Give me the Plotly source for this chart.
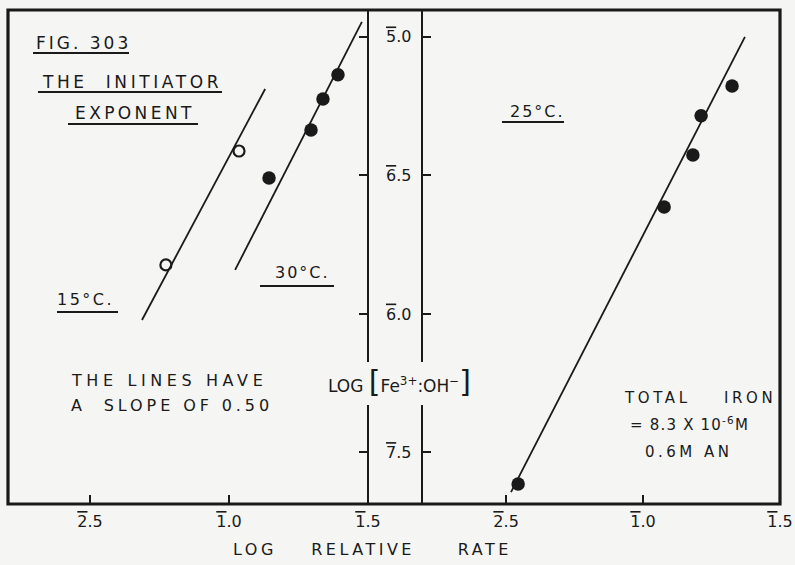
import plotly.graph_objects as go

# ---------------- data (log values; bar notation in tick labels) ----------------
x15 = [-1.227, -0.964]
y15 = [-5.823, -5.412]
fit15_x = [-1.313, -0.870]
fit15_y = [-6.022, -5.188]

x30 = [-0.856, -0.705, -0.662, -0.608]
y30 = [-5.509, -5.336, -5.224, -5.137]
fit30_x = [-0.978, -0.522]
fit30_y = [-5.841, -4.946]

x25 = [-1.456, -0.923, -0.818, -0.788, -0.675]
y25 = [-6.614, -5.614, -5.426, -5.285, -5.177]
fit25_x = [-1.482, -0.628]
fit25_y = [-6.643, -5.000]


def bar(ch, rest):
    return '<span style="text-decoration:overline">%s</span>%s' % (ch, rest)


x_tickvals = [-1.5, -1.0, -0.5]
x_ticktext = [bar("2", ".5"), bar("1", ".0"), bar("1", ".5")]
y_tickvals = [-5.0, -5.5, -6.0, -6.5]
y_ticktext = [bar("5", ".0"), bar("6", ".5"), bar("6", ".0"), bar("7", ".5")]

# ---------------- layout helpers ----------------
W, H = 795, 565
INK = "#1a1a1a"
BG = "#f5f5f3"
FONT = "DejaVu Sans"


def px(x):
    return x / W


def py(y):
    return 1 - y / H


fig = go.Figure()

line_style = dict(color=INK, width=1.8)
fig.add_trace(go.Scatter(x=fit15_x, y=fit15_y, mode="lines", line=line_style, xaxis="x", yaxis="y"))
fig.add_trace(go.Scatter(x=fit30_x, y=fit30_y, mode="lines", line=line_style, xaxis="x", yaxis="y"))
fig.add_trace(go.Scatter(x=x15, y=y15, mode="markers",
                         marker=dict(symbol="circle-open", size=11, color=INK, line=dict(width=2.2)),
                         xaxis="x", yaxis="y"))
fig.add_trace(go.Scatter(x=x30, y=y30, mode="markers",
                         marker=dict(symbol="circle", size=13.5, color=INK),
                         xaxis="x", yaxis="y"))
fig.add_trace(go.Scatter(x=fit25_x, y=fit25_y, mode="lines", line=line_style, xaxis="x2", yaxis="y2"))
fig.add_trace(go.Scatter(x=x25, y=y25, mode="markers",
                         marker=dict(symbol="circle", size=13.5, color=INK),
                         xaxis="x2", yaxis="y2"))

ydom = [py(504), py(10)]
xr_l = [-1.795, -0.5]
xr_r = [-1.807, -0.5]
yr = [-6.686, -4.903]

xcommon = dict(tickvals=x_tickvals, ticktext=x_ticktext, ticks="inside", ticklen=9,
               tickwidth=2, tickcolor=INK, showgrid=False, zeroline=False, showline=False,
               tickfont=dict(family=FONT, size=16, color=INK), ticklabelstandoff=6,
               fixedrange=True, automargin=False)

fig.update_layout(
    width=W, height=H,
    margin=dict(l=0, r=0, t=0, b=0, autoexpand=False),
    paper_bgcolor=BG, plot_bgcolor=BG,
    showlegend=False,
    font=dict(family=FONT, color=INK),
    xaxis=dict(domain=[px(8), px(368)], range=xr_l, anchor="y", **xcommon),
    xaxis2=dict(domain=[px(422), px(780)], range=xr_r, anchor="y2", **xcommon),
    yaxis=dict(domain=ydom, range=yr, anchor="x", side="right", tickvals=y_tickvals,
               ticktext=y_ticktext, ticks="inside", ticklen=9, tickwidth=2, tickcolor=INK,
               showgrid=False, zeroline=False, showline=False, ticklabelstandoff=17,
               tickfont=dict(family=FONT, size=16, color=INK), fixedrange=True,
               automargin=False),
    yaxis2=dict(domain=ydom, range=yr, anchor="x2", side="left", tickvals=y_tickvals,
                ticks="inside", ticklen=9, tickwidth=2, tickcolor=INK, showticklabels=False,
                showgrid=False, zeroline=False, showline=False, fixedrange=True,
                automargin=False),
)

# ---------------- frame ----------------
shapes = []
shapes.append(dict(type="rect", xref="paper", yref="paper", x0=px(8), x1=px(780),
                   y0=py(504), y1=py(10), line=dict(color=INK, width=3.2)))
for xv in (368, 422):
    shapes.append(dict(type="line", xref="paper", yref="paper", x0=px(xv), x1=px(xv),
                       y0=py(504), y1=py(405), line=dict(color=INK, width=2)))
    shapes.append(dict(type="line", xref="paper", yref="paper", x0=px(xv), x1=px(xv),
                       y0=py(362), y1=py(10), line=dict(color=INK, width=2)))

# underlines
for x0, x1, yv in [(33, 129, 53), (38, 222, 92), (68, 198, 124), (57, 118, 312),
                   (260, 334, 286), (502, 564, 122)]:
    shapes.append(dict(type="line", xref="paper", yref="paper", x0=px(x0), x1=px(x1),
                       y0=py(yv), y1=py(yv), line=dict(color=INK, width=1.8)))
fig.update_layout(shapes=shapes)


def ann(text, x, y, size, xanchor="left", ls=2):
    fig.add_annotation(text='<span style="letter-spacing:%spx">%s</span>' % (ls, text),
                       x=px(x), y=py(y), xref="paper", yref="paper",
                       xanchor=xanchor, yanchor="middle", showarrow=False,
                       font=dict(family=FONT, size=size, color=INK), align="left")


ann("FIG. 303", 34, 43, 17, ls=3)
ann("THE&nbsp; INITIATOR", 40, 82, 17, ls=3.6)
ann("EXPONENT", 73, 113, 17, ls=3.4)
ann("15°C.", 55, 299, 16, ls=2.5)
ann("30°C.", 273, 272, 16, ls=2)
ann("25°C.", 508, 111, 16, ls=2)
ann("THE LINES HAVE", 69, 380, 16, ls=4.6)
ann("A&nbsp; SLOPE OF 0.50", 69, 405, 16, ls=3.9)
ann("TOTAL&nbsp;&nbsp;&nbsp; IRON", 622, 398, 15, ls=3.6)
ann("= 8.3 X 10<sup>-6</sup>M", 628, 424, 15, ls=1.2)
ann("0.6M AN", 643, 452, 15, ls=3.5)
ann("LOG&nbsp;&nbsp;&nbsp; RELATIVE&nbsp;&nbsp;&nbsp;&nbsp; RATE", 231, 549, 16, ls=3.5)
fig.add_annotation(
    text='LOG <span style="font-size:30px">[</span>Fe<sup>3+</sup>:OH<sup>\u2212</sup><span style="font-size:30px">]</span>',
    x=px(399), y=py(381), xref="paper", yref="paper", xanchor="center", yanchor="middle",
    showarrow=False, font=dict(family=FONT, size=17, color=INK))

fig.write_html("out.html", config={"displayModeBar": False},
               post_script="document.body.style.margin='0';document.body.style.overflow='hidden';")
